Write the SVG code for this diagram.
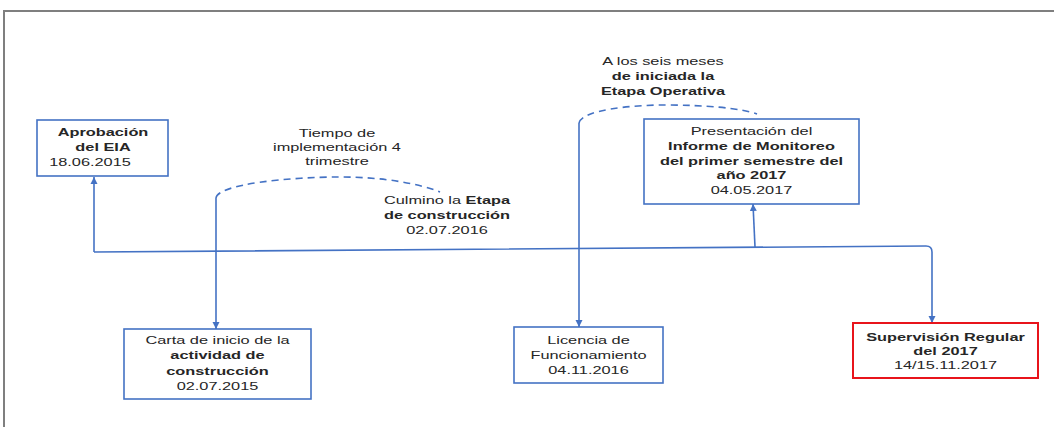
<svg xmlns="http://www.w3.org/2000/svg" width="1054" height="427" viewBox="0 0 1054 427">
<style>
text{font-family:"Liberation Sans",Arial,sans-serif;font-size:11.5px;fill:#262626;text-anchor:middle}
.b{font-weight:bold}
.box{fill:#fff;stroke:#4472C4;stroke-width:1.6}
.red{fill:#fff;stroke:#E8141B;stroke-width:2}
.ln{fill:none;stroke:#4472C4;stroke-width:1.6}
.dash{fill:none;stroke:#4472C4;stroke-width:1.6;stroke-dasharray:7 5}
</style>
<defs>
<marker id="ah" markerWidth="8" markerHeight="8" refX="7" refY="4" orient="auto" markerUnits="userSpaceOnUse">
<path d="M0,0.5 L7,4 L0,7.5 z" fill="#4472C4"/>
</marker>
</defs>
<rect width="1054" height="427" fill="#fff"/>
<path d="M4,430 L4,11 L1060,11" fill="none" stroke="#7f7f7f" stroke-width="2"/>

<g id="connectors">
<path class="ln" d="M94,252 L94,177" marker-end="url(#ah)"/>
<path class="ln" d="M94,252 L926,246 Q932,246 932,252 L932,323" marker-end="url(#ah)"/>
<path class="ln" d="M755,247 L753,204" marker-end="url(#ah)"/>
<path class="ln" d="M216,198 L216,329" marker-end="url(#ah)"/>
<path class="dash" d="M216,198 C218,184 290,177 340,177 C385,177 420,184 440,192"/>
<path class="ln" d="M579,123 L579,327" marker-end="url(#ah)"/>
<path class="dash" d="M579,123 C582,110 630,105 665,105 C705,105 740,108 757,114"/>
</g>

<g id="n-aprobacion">
<rect class="box" x="37" y="120" width="131" height="56"/>
<g transform="translate(103,0) scale(1.42,1)"><text class="b" x="0" y="136">Aprobación</text><text class="b" x="0" y="151">del EIA</text></g>
<g transform="translate(90,0) scale(1.42,1)"><text x="0" y="166">18.06.2015</text></g>
</g>

<g id="n-carta">
<rect class="box" x="124" y="329" width="187" height="70"/>
<g transform="translate(217.5,0) scale(1.42,1)">
<text x="0" y="344">Carta de inicio de la</text>
<text class="b" x="0" y="359.5">actividad de</text>
<text class="b" x="0" y="375">construcción</text>
<text x="0" y="390">02.07.2015</text>
</g>
</g>

<g id="n-tiempo">
<g transform="translate(337,0) scale(1.42,1)">
<text x="0" y="137">Tiempo de</text>
<text x="0" y="151">implementación 4</text>
<text x="0" y="165">trimestre</text>
</g>
</g>

<g id="n-culmino">
<g transform="translate(447,0) scale(1.42,1)">
<text x="0" y="204.5">Culmino la <tspan class="b">Etapa</tspan></text>
<text class="b" x="0" y="219">de construcción</text>
<text x="0" y="234">02.07.2016</text>
</g>
</g>

<g id="n-licencia">
<rect class="box" x="514" y="327" width="149" height="56"/>
<g transform="translate(588.5,0) scale(1.42,1)">
<text x="0" y="344">Licencia de</text>
<text x="0" y="359">Funcionamiento</text>
<text x="0" y="374">04.11.2016</text>
</g>
</g>

<g id="n-seis">
<g transform="translate(663,0) scale(1.42,1)">
<text x="0" y="65">A los seis meses</text>
<text class="b" x="0" y="80">de iniciada la</text>
<text class="b" x="0" y="95">Etapa Operativa</text>
</g>
</g>

<g id="n-presentacion">
<rect class="box" x="644" y="119" width="215" height="85"/>
<g transform="translate(751.5,0) scale(1.42,1)">
<text x="0" y="135.5">Presentación del</text>
<text class="b" x="0" y="150.5">Informe de Monitoreo</text>
<text class="b" x="0" y="165">del primer semestre del</text>
<text class="b" x="0" y="179.5">año 2017</text>
<text x="0" y="194.5">04.05.2017</text>
</g>
</g>

<g id="n-supervision">
<rect class="red" x="853" y="323" width="185" height="55"/>
<g transform="translate(945.5,0) scale(1.42,1)">
<text class="b" x="0" y="341">Supervisión Regular</text>
<text class="b" x="0" y="355">del 2017</text>
<text x="0" y="369">14/15.11.2017</text>
</g>
</g>
</svg>
